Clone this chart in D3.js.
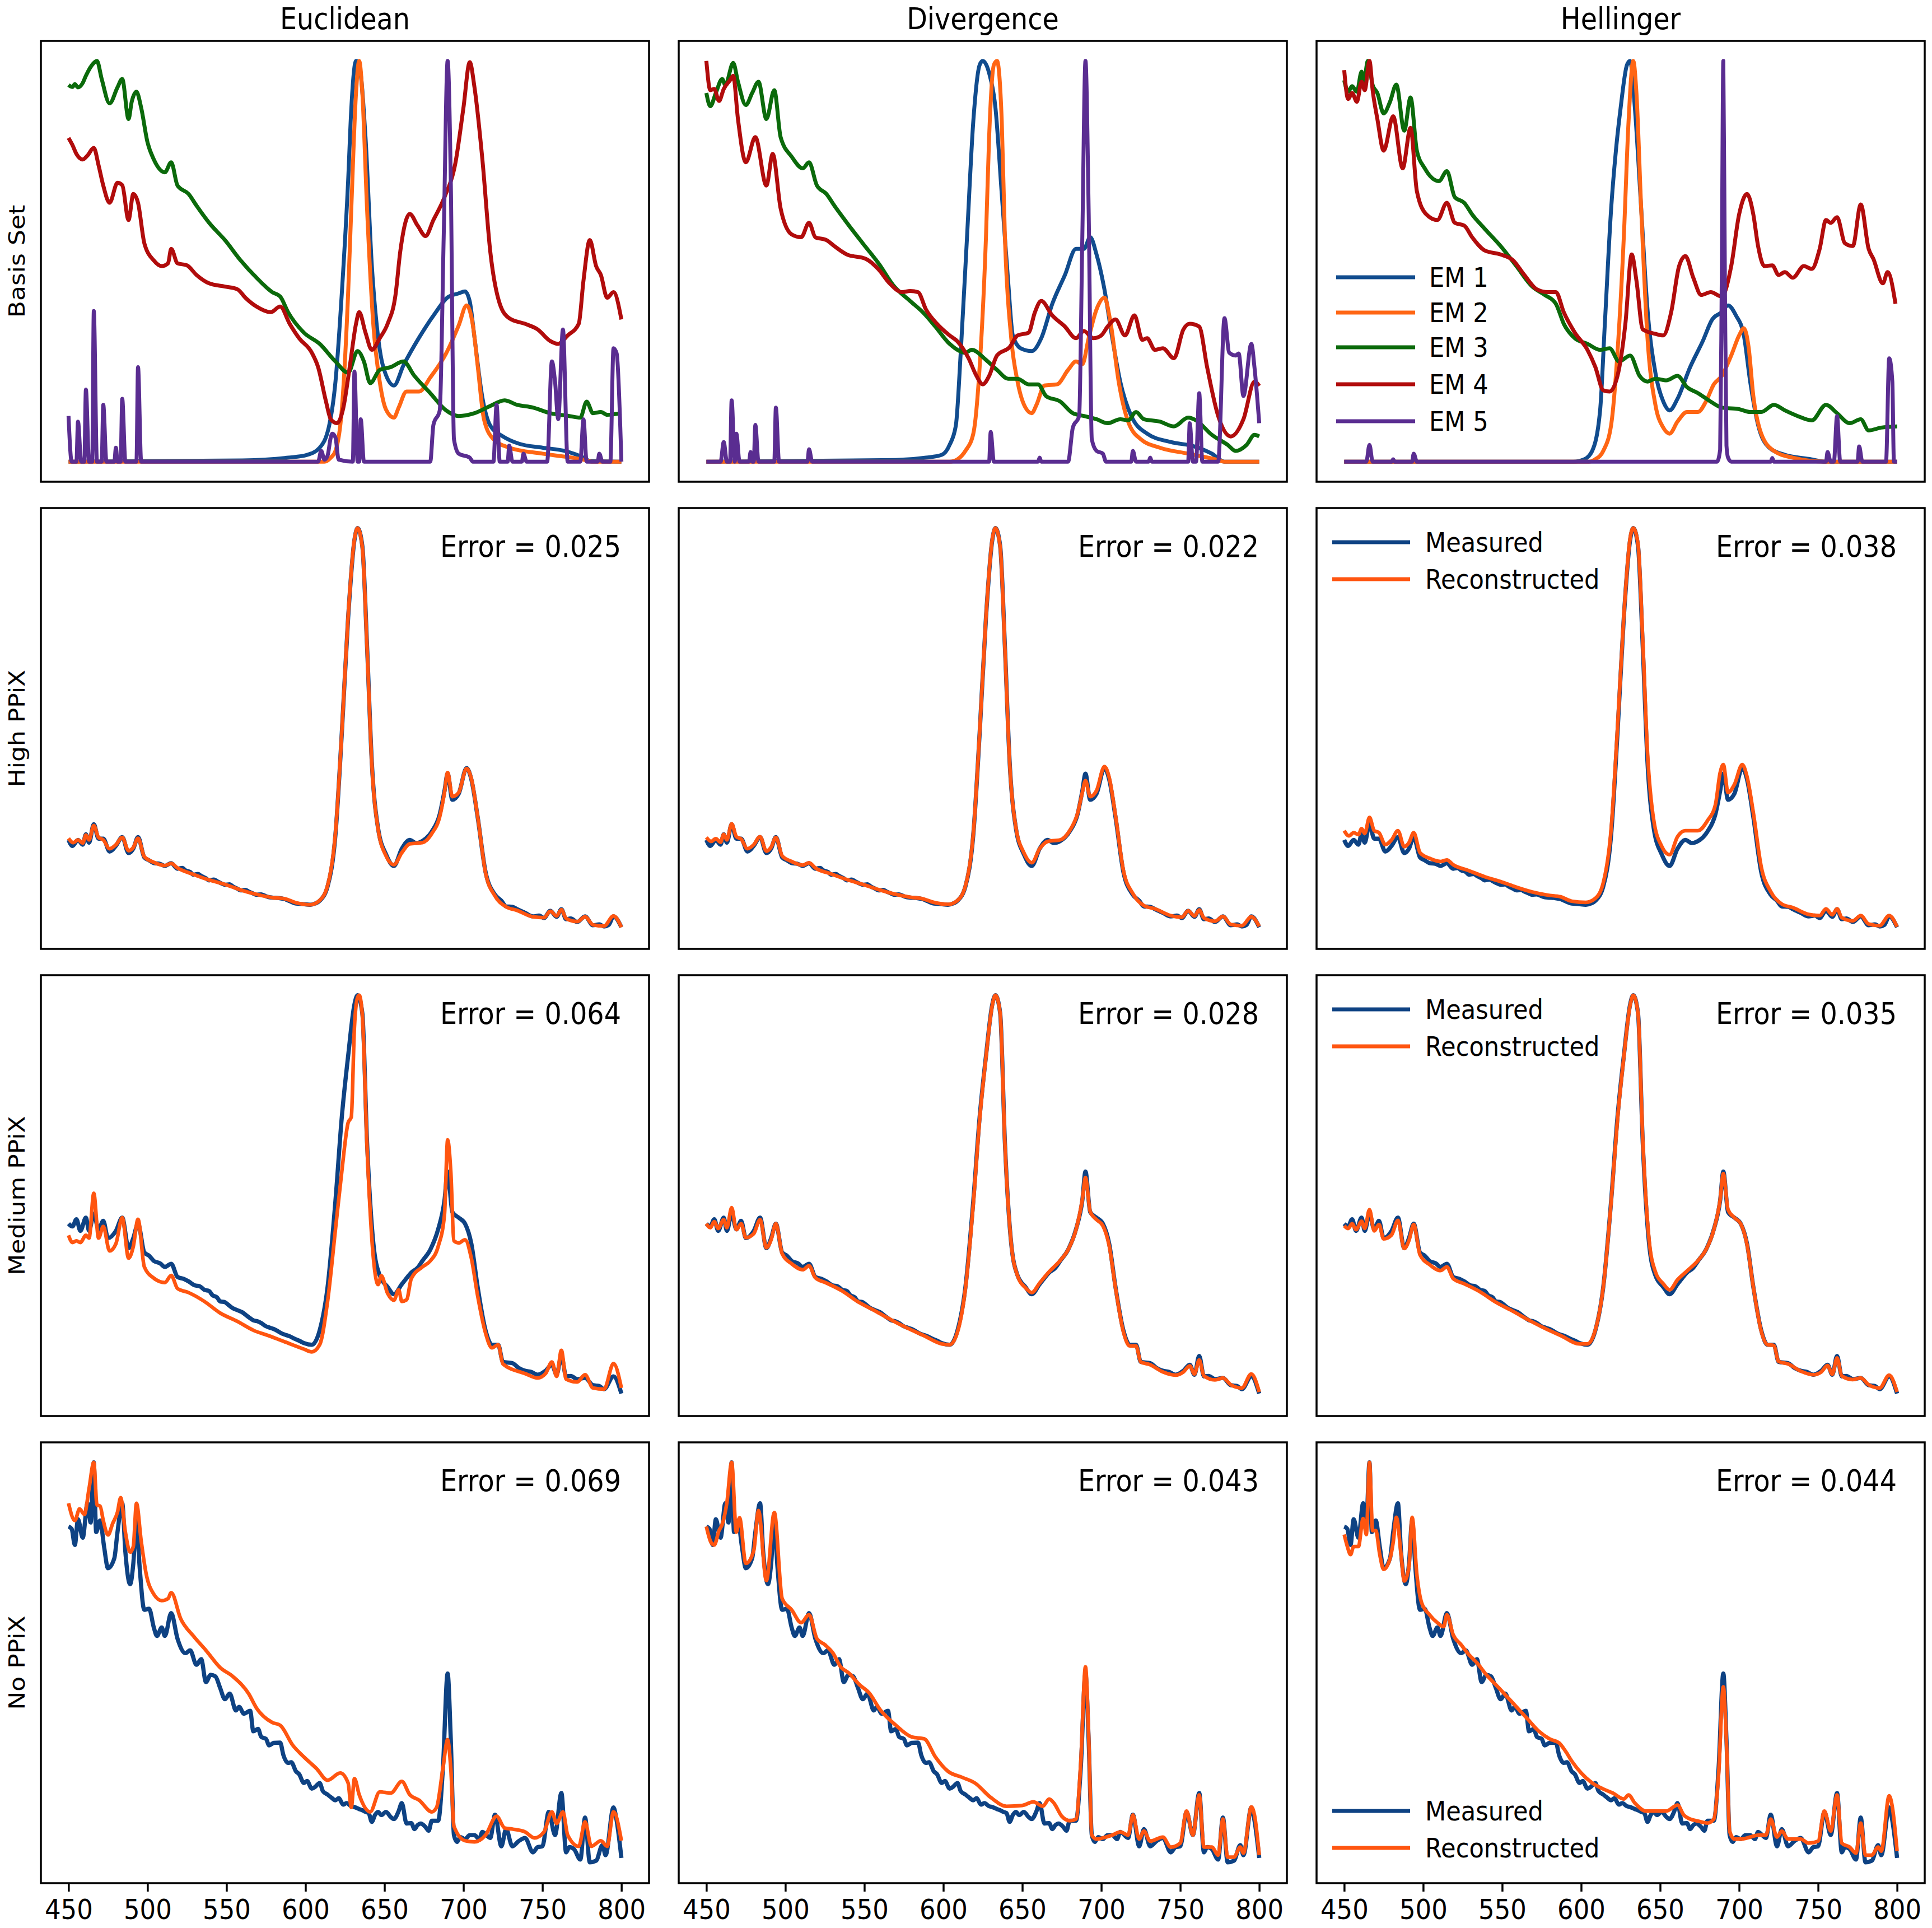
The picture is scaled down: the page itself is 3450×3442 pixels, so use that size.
<!DOCTYPE html>
<html>
<head>
<meta charset="utf-8">
<script src="https://cdn.jsdelivr.net/npm/d3@7"></script>
<style>
  body { margin: 0; background: #fff; }
  text { font-family: "DejaVu Sans", "Liberation Sans", sans-serif; fill: #000; }
</style>
</head>
<body>
<svg id="fig" width="3450" height="3442"></svg>
<script>
// ---- labels ----
const methods = ["Euclidean", "Divergence", "Hellinger"];
const rowLabels = ["Basis Set", "High PPiX", "Medium PPiX", "No PPiX"];
const emLabels = ["EM 1", "EM 2", "EM 3", "EM 4", "EM 5"];
const wavelengthTicks = [450, 500, 550, 600, 650, 700, 750, 800];
const errHigh = [0.025, 0.022, 0.038];
const errMedium = [0.064, 0.028, 0.035];
const errNo = [0.069, 0.043, 0.044];

// ---- basis sets: [wavelength nm, normalised intensity] ----
const eucEm1 = [[450,0],[560,0.003],[589,0.01],[601,0.017],[609,0.035],[615,0.09],[619,0.2],[623,0.42],[627,0.7],[629,0.88],[632,1.0],[634,0.99],[638,0.81],[642,0.49],[646,0.31],[649,0.24],[656,0.19],[662,0.24],[672,0.31],[682,0.37],[690,0.41],[697,0.42],[701,0.425],[704,0.4],[707,0.31],[712,0.16],[717,0.09],[725,0.063],[735,0.045],[750,0.035],[765,0.026],[775,0.012],[780,0.002],[800,0]];
const eucEm2 = [[450,0],[612,0],[616,0.01],[619,0.027],[623,0.13],[627,0.42],[629,0.63],[632,0.92],[634,1.0],[636,0.92],[639,0.63],[643,0.34],[647,0.2],[651,0.13],[656,0.11],[659,0.135],[664,0.175],[672,0.175],[679,0.21],[689,0.27],[697,0.34],[702,0.39],[706,0.34],[709,0.24],[713,0.106],[719,0.056],[729,0.035],[750,0.02],[775,0.006],[782,0],[800,0]];
const eucEm3 = [[450,0.94],[452.5,0.935],[454,0.942],[456,0.934],[459,0.945],[461,0.963],[466,0.995],[468,1.0],[471,0.955],[476,0.894],[481,0.934],[484,0.955],[488,0.855],[490,0.898],[493,0.923],[496,0.883],[500,0.797],[504,0.754],[511,0.722],[515,0.747],[519,0.689],[526,0.668],[531,0.639],[539,0.596],[549,0.553],[559,0.502],[569,0.459],[579,0.423],[584,0.412],[589,0.373],[599,0.322],[609,0.294],[619,0.25],[627,0.222],[633,0.276],[637,0.25],[641,0.196],[647,0.229],[654,0.236],[662,0.25],[669,0.214],[679,0.171],[689,0.128],[697,0.114],[707,0.121],[717,0.139],[726,0.153],[734,0.142],[744,0.135],[755,0.121],[767,0.114],[774,0.11],[778,0.15],[782,0.121],[787,0.124],[791,0.117],[800,0.121]];
const eucEm4 = [[450,0.808],[452.5,0.79],[455,0.768],[459,0.754],[462,0.764],[466,0.783],[469,0.74],[472,0.689],[476,0.646],[481,0.696],[484,0.69],[488,0.603],[491,0.668],[494,0.646],[498,0.545],[504,0.502],[509,0.488],[513,0.495],[515,0.531],[519,0.495],[525,0.49],[531,0.466],[539,0.445],[549,0.437],[557,0.43],[562,0.409],[569,0.387],[578,0.373],[584,0.387],[590,0.344],[596,0.308],[604,0.272],[608,0.236],[613,0.15],[616,0.106],[620,0.096],[624,0.135],[628,0.236],[632,0.344],[634,0.373],[638,0.322],[642,0.279],[647,0.308],[652,0.344],[657,0.416],[660,0.524],[666,0.618],[671,0.589],[676,0.563],[681,0.603],[688,0.66],[695,0.747],[700,0.883],[704,0.997],[707,0.934],[712,0.754],[717,0.524],[723,0.394],[729,0.358],[739,0.344],[747,0.33],[755,0.301],[760,0.294],[766,0.315],[773,0.344],[776,0.452],[780,0.553],[784,0.488],[787,0.466],[791,0.409],[795,0.423],[800,0.355]];
const eucEm5 = [[450,0.114],[452,0],[455,0],[456,0.1],[458,0],[460,0],[461,0.18],[463,0],[465,0],[466,0.376],[468,0],[471,0],[472,0.142],[474,0],[479,0],[480,0.035],[481,0],[483,0],[484,0.157],[486,0],[493,0],[494,0.236],[496,0],[608,0],[610,0.027],[612,0.005],[614,0.015],[616,0.06],[617,0.07],[619,0.06],[621,0.005],[630,0],[631,0.225],[633,0],[634,0],[635,0.106],[637,0],[679,0],[681,0.092],[685,0.128],[687.5,0.56],[690,1.0],[692,0.7],[694,0.056],[697,0.02],[704,0.01],[706,0],[719,0],[721,0.142],[723,0],[728,0],[729,0.04],[731,0],[737,0],[738,0.02],[740,0],[753,0],[756,0.25],[758,0.2],[760,0.106],[763,0.33],[766,0],[774,0],[776,0.106],[778,0],[785,0],[786,0.02],[788,0],[793,0],[795,0.283],[797,0.27],[800,0]];

const divEm1 = [[450,0],[570,0.004],[589,0.01],[599,0.017],[604,0.042],[608,0.092],[611,0.27],[615,0.56],[619,0.85],[623,0.99],[625,1.0],[629,0.97],[633,0.883],[637,0.668],[641,0.452],[644,0.315],[649,0.283],[656,0.276],[662,0.308],[669,0.394],[677,0.466],[684,0.531],[689,0.531],[693,0.56],[697,0.517],[702,0.43],[707,0.308],[712,0.2],[719,0.114],[729,0.07],[744,0.049],[759,0.038],[770,0.02],[778,0],[800,0]];
const divEm2 = [[450,0],[604,0],[609,0.006],[614,0.027],[619,0.07],[623,0.236],[627,0.56],[629,0.81],[632,0.99],[634,1.0],[637,0.85],[639,0.56],[643,0.308],[647,0.2],[652,0.135],[656,0.121],[659,0.142],[664,0.19],[672,0.193],[679,0.229],[684,0.25],[688,0.243],[692,0.308],[697,0.38],[702,0.409],[706,0.344],[711,0.2],[717,0.1],[725,0.056],[737,0.035],[755,0.02],[772,0.006],[778,0],[800,0]];
const divEm3 = [[450,0.92],[452.5,0.887],[456,0.92],[460,0.955],[462,0.94],[467,0.995],[470,0.948],[475,0.89],[479,0.92],[483,0.948],[488,0.855],[493,0.927],[497,0.81],[504,0.761],[511,0.732],[515,0.747],[520,0.689],[526,0.668],[531,0.639],[539,0.596],[549,0.545],[559,0.495],[569,0.437],[579,0.401],[587,0.373],[595,0.337],[604,0.294],[614,0.272],[618,0.279],[627,0.254],[634,0.229],[641,0.207],[647,0.207],[654,0.193],[660,0.193],[665,0.164],[674,0.15],[682,0.121],[689,0.114],[697,0.106],[704,0.096],[712,0.106],[717,0.103],[722,0.124],[727,0.106],[737,0.1],[746,0.088],[755,0.11],[760,0.103],[770,0.067],[780,0.042],[785,0.027],[792,0.042],[797,0.067],[800,0.063]];
const divEm4 = [[450,1.0],[452.5,0.927],[455,0.93],[458,0.9],[461,0.93],[465,0.952],[467,0.963],[470,0.855],[475,0.747],[481,0.81],[488,0.689],[492,0.768],[497,0.632],[504,0.567],[510,0.56],[515,0.596],[519,0.56],[526,0.553],[531,0.538],[539,0.517],[551,0.506],[559,0.48],[566,0.445],[574,0.423],[579,0.426],[584,0.423],[589,0.38],[596,0.344],[604,0.315],[609,0.3],[616,0.258],[621,0.214],[625,0.193],[629,0.214],[634,0.265],[642,0.286],[647,0.315],[654,0.322],[658,0.373],[662,0.401],[669,0.365],[677,0.337],[684,0.308],[689,0.326],[695,0.308],[700,0.315],[704,0.337],[709,0.355],[715,0.315],[721,0.365],[726,0.304],[729,0.308],[734,0.279],[739,0.283],[746,0.258],[752,0.33],[756,0.344],[762,0.337],[767,0.236],[774,0.114],[782,0.063],[790,0.106],[797,0.2],[800,0.189]];
const divEm5 = [[450,0],[459,0],[461,0.049],[463,0],[465,0],[466,0.153],[468,0],[469,0.07],[471,0],[477,0],[478,0.024],[479,0],[480,0],[481,0.092],[483,0],[493,0],[494,0.135],[496,0],[514,0],[515,0.031],[517,0],[629,0],[630,0.074],[632,0],[660,0],[661,0.01],[662,0],[679,0],[682,0.085],[686,0.114],[688,0.56],[690,1.0],[692,0.63],[694,0.056],[697,0.027],[701,0.02],[703,0],[719,0],[720,0.027],[722,0],[730,0],[731,0.01],[732,0],[755,0],[756,0.096],[758,0],[760,0],[762,0.171],[764,0],[774,0],[778,0.358],[781,0.272],[785,0.265],[787,0.27],[790,0.164],[795,0.294],[797,0.235],[800,0.096]];

const helEm1 = [[450,0],[595,0],[602,0.006],[607,0.027],[612,0.128],[615,0.344],[619,0.632],[622,0.776],[625,0.883],[629,0.99],[631,1.0],[634,0.883],[638,0.632],[642,0.38],[647,0.222],[652,0.15],[656,0.128],[661,0.157],[669,0.236],[677,0.301],[683,0.355],[689,0.373],[693,0.39],[698,0.365],[703,0.315],[707,0.2],[712,0.092],[719,0.035],[729,0.017],[744,0.007],[755,0],[800,0]];
const helEm2 = [[450,0],[605,0],[609,0.006],[614,0.027],[619,0.092],[623,0.272],[627,0.56],[630,0.848],[633,1.0],[635,0.92],[638,0.632],[642,0.308],[647,0.142],[652,0.085],[656,0.07],[661,0.1],[667,0.124],[674,0.124],[679,0.15],[684,0.193],[689,0.214],[695,0.265],[700,0.315],[703,0.333],[706,0.286],[709,0.164],[714,0.07],[722,0.027],[734,0.01],[755,0],[800,0]];
const helEm3 = [[450,0.952],[452.5,0.923],[455,0.937],[458,0.923],[461,0.973],[462,0.935],[465,1.0],[468,0.94],[471,0.92],[475,0.869],[479,0.898],[483,0.941],[488,0.826],[492,0.909],[496,0.776],[501,0.732],[510,0.7],[515,0.725],[520,0.66],[526,0.646],[531,0.617],[539,0.581],[549,0.538],[559,0.488],[569,0.437],[577,0.416],[584,0.394],[589,0.344],[596,0.308],[604,0.294],[612,0.279],[618,0.283],[624,0.25],[631,0.265],[637,0.214],[642,0.2],[647,0.207],[654,0.203],[661,0.214],[667,0.186],[674,0.171],[682,0.15],[689,0.135],[700,0.131],[707,0.124],[714,0.124],[722,0.142],[729,0.128],[737,0.114],[746,0.103],[755,0.142],[762,0.121],[770,0.096],[777,0.106],[782,0.078],[790,0.085],[800,0.088]];
const helEm4 = [[450,0.977],[452.5,0.905],[455,0.92],[458,0.898],[461,0.948],[463,0.927],[466,1.0],[468,0.927],[471,0.855],[475,0.776],[481,0.862],[487,0.732],[492,0.833],[496,0.675],[502,0.617],[509,0.603],[515,0.646],[520,0.596],[526,0.589],[531,0.56],[539,0.527],[549,0.517],[557,0.502],[564,0.466],[572,0.43],[579,0.423],[584,0.423],[589,0.373],[596,0.322],[604,0.279],[609,0.236],[614,0.178],[618,0.175],[623,0.214],[628,0.344],[632,0.517],[635,0.452],[639,0.33],[647,0.319],[652,0.315],[657,0.373],[662,0.488],[666,0.513],[671,0.459],[676,0.416],[682,0.423],[689,0.412],[695,0.488],[700,0.617],[705,0.668],[709,0.617],[712,0.538],[716,0.488],[721,0.49],[725,0.466],[729,0.473],[734,0.459],[741,0.488],[746,0.481],[751,0.531],[755,0.603],[758,0.596],[762,0.61],[767,0.545],[772,0.538],[777,0.642],[782,0.531],[785,0.506],[791,0.445],[794,0.473],[799,0.394]];
const helEm5 = [[450,0],[464,0],[466,0.042],[468,0],[480,0],[481,0.006],[482,0],[493,0],[494,0.02],[496,0],[686,0],[688,0.03],[689,0.45],[690,1.0],[691,0.45],[692,0.04],[693,0.01],[695,0],[720,0],[721,0.009],[722,0],[755,0],[756,0.024],[758,0],[760,0],[762,0.114],[764,0],[775,0],[776,0.038],[778,0],[793,0],[795,0.258],[797,0.2],[798,0],[800,0]];

// ---- measured spectra ----
const measHigh = [[450,0.222],[452.5,0.207],[456,0.222],[459,0.21],[461,0.236],[463,0.215],[466,0.261],[469,0.225],[472,0.225],[476,0.193],[480,0.207],[484,0.229],[488,0.189],[491,0.2],[494,0.229],[498,0.178],[501,0.171],[504,0.164],[508,0.162],[511,0.157],[515,0.164],[519,0.15],[522,0.152],[524,0.146],[527,0.142],[529,0.135],[532,0.137],[534,0.132],[537,0.126],[539,0.121],[542,0.123],[544,0.119],[547,0.113],[549,0.11],[552,0.111],[554,0.106],[557,0.1],[559,0.096],[562,0.097],[564,0.093],[567,0.088],[569,0.085],[572,0.086],[574,0.083],[577,0.079],[579,0.078],[583,0.077],[587,0.074],[590,0.069],[594,0.063],[598,0.062],[603,0.06],[606,0.063],[609,0.07],[614,0.106],[619,0.236],[623,0.488],[627,0.776],[631,0.97],[633,1.0],[636,0.955],[639,0.704],[642,0.416],[646,0.25],[651,0.186],[656,0.157],[661,0.2],[666,0.222],[670,0.214],[674,0.219],[680,0.243],[685,0.286],[688,0.344],[690,0.387],[693,0.322],[697,0.337],[702,0.401],[705,0.373],[709,0.279],[714,0.142],[720,0.085],[724,0.07],[727,0.056],[731,0.055],[734,0.049],[739,0.04],[744,0.031],[748,0.033],[751,0.027],[755,0.045],[759,0.03],[762,0.049],[765,0.024],[768,0.026],[772,0.017],[777,0.031],[782,0.009],[786,0.011],[789,0.006],[792,0.01],[795,0.031],[800,0.004]];
const measMedium = [[450,0.43],[452.5,0.423],[455,0.441],[457.5,0.412],[461,0.445],[463,0.412],[466,0.455],[469,0.416],[472,0.437],[475,0.394],[480,0.412],[484,0.445],[488,0.369],[491,0.394],[494,0.43],[498,0.358],[501,0.35],[504,0.337],[508,0.331],[511,0.322],[515,0.33],[519,0.297],[523,0.292],[526,0.286],[530,0.276],[533,0.274],[536,0.265],[539,0.262],[541,0.252],[544,0.246],[546,0.236],[549,0.234],[551,0.228],[554,0.219],[557,0.214],[560,0.209],[562,0.203],[565,0.194],[567,0.189],[570,0.186],[572,0.182],[575,0.174],[577,0.171],[580,0.167],[582,0.163],[585,0.156],[587,0.153],[590,0.149],[593,0.143],[596,0.138],[599,0.132],[604,0.128],[609,0.164],[614,0.272],[619,0.488],[623,0.696],[627,0.848],[631,0.977],[633,1.0],[636,0.955],[639,0.632],[643,0.38],[647,0.301],[652,0.272],[656,0.254],[661,0.279],[664,0.294],[667,0.308],[671,0.32],[674,0.337],[679,0.365],[684,0.416],[688,0.488],[690,0.56],[693,0.459],[697,0.445],[701,0.43],[705,0.38],[709,0.272],[714,0.164],[718,0.128],[722,0.128],[725,0.085],[731,0.082],[735,0.07],[739,0.063],[743,0.06],[747,0.053],[752,0.063],[756,0.078],[759,0.053],[762,0.1],[765,0.049],[768,0.05],[772,0.042],[777,0.045],[782,0.027],[786,0.025],[789,0.017],[795,0.049],[800,0.006]];
const measNo = [[450,0.84],[452,0.834],[454,0.794],[456,0.858],[459,0.812],[462,0.898],[464,0.85],[466,1.0],[467.5,0.826],[470,0.855],[472.5,0.79],[475,0.736],[479,0.761],[481,0.826],[484,0.898],[486,0.776],[489,0.696],[491,0.747],[493,0.855],[495,0.74],[498,0.632],[501,0.635],[504,0.588],[506,0.567],[509,0.588],[511,0.567],[515,0.624],[519,0.56],[524,0.524],[527,0.531],[531,0.495],[534,0.509],[537,0.452],[540,0.47],[543,0.466],[546,0.437],[549,0.409],[552,0.423],[556,0.381],[558,0.39],[561,0.373],[565,0.38],[567,0.329],[570,0.335],[572,0.315],[575,0.31],[577,0.294],[580,0.3],[584,0.301],[586,0.27],[589,0.25],[591,0.252],[594,0.229],[596,0.222],[599,0.2],[601,0.205],[604,0.186],[606,0.19],[609,0.2],[611,0.18],[614,0.171],[616,0.165],[619,0.157],[621,0.162],[624,0.146],[626,0.15],[629,0.142],[631,0.14],[634,0.135],[636,0.132],[638,0.128],[640,0.125],[642,0.103],[644,0.12],[646,0.128],[648,0.12],[651,0.128],[654,0.115],[656,0.11],[659,0.13],[661,0.15],[664,0.099],[667,0.1],[669,0.085],[671,0.095],[673,0.099],[676,0.09],[678,0.081],[680,0.106],[684,0.106],[687,0.236],[690,0.473],[692,0.308],[694,0.07],[696,0.053],[698,0.065],[701,0.06],[704,0.07],[707,0.07],[710,0.06],[712,0.078],[717,0.063],[720,0.121],[724,0.042],[727,0.085],[731,0.042],[735,0.055],[739,0.063],[744,0.027],[747,0.04],[750,0.042],[754,0.128],[758,0.07],[762,0.175],[765,0.027],[767,0.04],[770,0.035],[774,0.009],[777,0.114],[780,0.002],[784,0.006],[788,0.045],[790,0.02],[795,0.139],[797,0.106],[800,0.013]];

// ---- reconstructions ----
const reconHighEuc = [[450,0.226],[453,0.215],[456,0.222],[459,0.214],[461,0.234],[463,0.222],[466,0.258],[469,0.228],[472,0.222],[476,0.2],[480,0.21],[484,0.228],[488,0.195],[491,0.203],[494,0.226],[498,0.18],[504,0.166],[511,0.158],[515,0.163],[519,0.152],[529,0.136],[539,0.122],[549,0.111],[559,0.097],[569,0.086],[579,0.078],[587,0.075],[594,0.065],[603,0.06],[609,0.071],[614,0.108],[619,0.24],[623,0.49],[627,0.78],[631,0.972],[633,1.0],[636,0.952],[639,0.7],[642,0.412],[646,0.248],[651,0.182],[656,0.16],[661,0.19],[666,0.212],[674,0.215],[680,0.238],[685,0.28],[688,0.34],[690,0.39],[693,0.33],[697,0.34],[702,0.4],[705,0.375],[709,0.28],[714,0.14],[720,0.082],[727,0.055],[734,0.046],[744,0.03],[751,0.028],[755,0.044],[759,0.032],[762,0.048],[765,0.026],[772,0.018],[777,0.03],[782,0.01],[789,0.007],[795,0.032],[800,0.004]];
const reconHighDiv = [[450,0.228],[453,0.218],[456,0.225],[459,0.216],[461,0.236],[463,0.222],[466,0.262],[469,0.23],[472,0.224],[476,0.2],[480,0.21],[484,0.23],[488,0.194],[491,0.204],[494,0.228],[498,0.182],[504,0.168],[511,0.159],[515,0.165],[519,0.152],[529,0.137],[539,0.123],[549,0.111],[559,0.098],[569,0.087],[579,0.079],[587,0.075],[594,0.066],[603,0.061],[609,0.071],[614,0.107],[619,0.238],[623,0.49],[627,0.778],[631,0.972],[633,1.0],[636,0.953],[639,0.7],[642,0.414],[646,0.252],[651,0.19],[656,0.165],[661,0.2],[666,0.218],[674,0.222],[680,0.245],[685,0.288],[688,0.34],[690,0.37],[693,0.33],[697,0.345],[702,0.405],[705,0.378],[709,0.283],[714,0.146],[720,0.088],[727,0.058],[734,0.05],[744,0.033],[751,0.029],[755,0.045],[759,0.032],[762,0.047],[765,0.027],[772,0.019],[777,0.031],[782,0.011],[789,0.008],[795,0.03],[800,0.006]];
const reconHighHel = [[450,0.245],[453,0.232],[456,0.24],[459,0.235],[461,0.25],[463,0.238],[466,0.278],[469,0.245],[472,0.24],[476,0.21],[480,0.222],[484,0.245],[488,0.205],[491,0.215],[494,0.24],[498,0.19],[504,0.176],[511,0.168],[515,0.172],[519,0.16],[529,0.145],[539,0.13],[549,0.118],[559,0.104],[569,0.092],[579,0.084],[587,0.08],[594,0.069],[603,0.066],[609,0.076],[614,0.115],[619,0.25],[623,0.5],[627,0.78],[631,0.975],[633,1.0],[636,0.96],[639,0.72],[642,0.44],[646,0.27],[651,0.206],[656,0.185],[661,0.23],[666,0.245],[674,0.245],[680,0.27],[685,0.31],[688,0.39],[690,0.41],[693,0.34],[697,0.36],[702,0.41],[705,0.38],[709,0.29],[714,0.155],[720,0.093],[727,0.062],[734,0.053],[744,0.036],[751,0.033],[755,0.05],[759,0.035],[762,0.05],[765,0.028],[772,0.02],[777,0.033],[782,0.012],[789,0.008],[795,0.033],[800,0.005]];

const reconMedEuc = [[450,0.401],[452.5,0.383],[455,0.387],[457.5,0.383],[461,0.401],[463,0.394],[466,0.506],[469,0.394],[472,0.423],[476,0.362],[480,0.38],[484,0.445],[488,0.344],[491,0.373],[494,0.441],[498,0.322],[504,0.294],[511,0.283],[515,0.301],[519,0.268],[526,0.258],[536,0.236],[546,0.207],[557,0.186],[567,0.164],[577,0.15],[587,0.135],[599,0.117],[604,0.11],[609,0.128],[614,0.236],[619,0.416],[623,0.56],[627,0.682],[629,0.696],[631,0.92],[633,0.995],[634,1.0],[636,0.95],[639,0.62],[643,0.344],[646,0.278],[648,0.3],[652,0.256],[656,0.239],[659,0.265],[661,0.236],[664,0.24],[667,0.293],[674,0.322],[679,0.337],[684,0.373],[688,0.452],[690,0.639],[692,0.56],[694,0.387],[697,0.382],[701,0.39],[705,0.344],[709,0.25],[714,0.157],[718,0.12],[722,0.128],[725,0.08],[739,0.056],[747,0.045],[752,0.056],[756,0.085],[759,0.049],[762,0.114],[765,0.042],[772,0.035],[777,0.053],[782,0.02],[789,0.017],[795,0.081],[800,0.02]];
const reconMedDiv = [[450,0.43],[452.5,0.42],[455,0.435],[457.5,0.418],[461,0.44],[463,0.42],[466,0.47],[469,0.415],[472,0.43],[475,0.395],[480,0.405],[484,0.44],[488,0.37],[491,0.39],[494,0.43],[498,0.355],[504,0.33],[511,0.315],[515,0.325],[519,0.295],[526,0.282],[536,0.262],[546,0.235],[557,0.212],[567,0.19],[577,0.17],[587,0.152],[599,0.13],[604,0.128],[609,0.16],[614,0.268],[619,0.48],[623,0.69],[627,0.845],[631,0.975],[633,1.0],[636,0.955],[639,0.63],[643,0.38],[647,0.3],[652,0.27],[656,0.258],[661,0.282],[667,0.31],[674,0.338],[679,0.365],[684,0.415],[688,0.49],[690,0.545],[693,0.46],[697,0.44],[701,0.425],[705,0.375],[709,0.27],[714,0.16],[718,0.125],[722,0.125],[725,0.085],[731,0.078],[739,0.06],[747,0.052],[752,0.06],[756,0.075],[759,0.055],[762,0.09],[765,0.05],[772,0.04],[777,0.045],[782,0.028],[789,0.02],[795,0.055],[800,0.01]];
const reconMedHel = [[450,0.425],[452.5,0.418],[455,0.43],[457.5,0.415],[461,0.436],[463,0.418],[466,0.465],[469,0.412],[472,0.428],[475,0.392],[480,0.402],[484,0.438],[488,0.368],[491,0.388],[494,0.428],[498,0.352],[504,0.328],[511,0.313],[515,0.322],[519,0.293],[526,0.28],[536,0.26],[546,0.234],[557,0.211],[567,0.189],[577,0.169],[587,0.151],[599,0.13],[604,0.13],[609,0.165],[614,0.272],[619,0.485],[623,0.69],[627,0.845],[631,0.975],[633,1.0],[636,0.955],[639,0.64],[643,0.39],[647,0.31],[652,0.28],[656,0.265],[661,0.29],[667,0.312],[674,0.338],[679,0.365],[684,0.415],[688,0.49],[690,0.555],[693,0.465],[697,0.445],[701,0.43],[705,0.378],[709,0.272],[714,0.162],[718,0.128],[722,0.126],[725,0.086],[731,0.08],[739,0.062],[747,0.053],[752,0.06],[756,0.076],[759,0.054],[762,0.095],[765,0.05],[772,0.041],[777,0.045],[782,0.028],[789,0.02],[795,0.052],[800,0.01]];

const reconNoEuc = [[450,0.898],[454,0.855],[457,0.884],[460,0.87],[463,0.935],[466,1.0],[468,0.894],[470,0.891],[472,0.855],[475,0.819],[478,0.848],[481,0.876],[483,0.912],[486,0.826],[489,0.776],[491,0.79],[493,0.898],[496,0.804],[499,0.725],[504,0.671],[509,0.655],[513,0.66],[515,0.675],[521,0.61],[529,0.567],[537,0.531],[546,0.488],[554,0.466],[564,0.423],[569,0.387],[579,0.351],[584,0.344],[592,0.294],[599,0.265],[607,0.236],[614,0.207],[622,0.225],[627,0.2],[629,0.139],[631,0.211],[634,0.171],[641,0.128],[647,0.178],[654,0.175],[661,0.204],[666,0.171],[672,0.157],[680,0.128],[683,0.139],[687,0.236],[690,0.308],[692,0.236],[694,0.092],[701,0.056],[707,0.053],[714,0.07],[721,0.117],[726,0.088],[731,0.085],[739,0.078],[745,0.063],[751,0.078],[756,0.128],[759,0.099],[763,0.128],[766,0.07],[773,0.042],[777,0.103],[781,0.042],[787,0.056],[791,0.042],[795,0.128],[800,0.056]];
const reconNoDiv = [[450,0.84],[453,0.8],[455,0.794],[458,0.83],[460,0.845],[463,0.9],[466,1.0],[469,0.826],[471,0.862],[475,0.748],[480,0.78],[483,0.88],[488,0.705],[493,0.875],[498,0.66],[504,0.632],[510,0.6],[515,0.62],[520,0.56],[525,0.545],[530,0.525],[535,0.49],[540,0.475],[547,0.445],[553,0.425],[560,0.383],[570,0.344],[580,0.315],[588,0.31],[595,0.265],[603,0.229],[612,0.214],[620,0.2],[630,0.164],[640,0.142],[650,0.144],[657,0.153],[663,0.142],[667,0.16],[670,0.15],[675,0.117],[680,0.106],[684,0.11],[687,0.25],[690,0.49],[692,0.32],[694,0.07],[697,0.06],[701,0.063],[707,0.07],[712,0.078],[717,0.07],[720,0.12],[724,0.06],[727,0.08],[731,0.055],[739,0.065],[744,0.04],[750,0.05],[754,0.13],[758,0.07],[762,0.17],[765,0.04],[770,0.04],[774,0.02],[777,0.11],[780,0.015],[784,0.015],[788,0.04],[790,0.025],[795,0.14],[797,0.12],[800,0.02]];
const reconNoHel = [[450,0.82],[452,0.79],[454,0.77],[456,0.79],[459,0.79],[462,0.86],[464,0.82],[466,1.0],[468,0.83],[470,0.83],[472.5,0.77],[475,0.733],[479,0.76],[481,0.8],[483,0.863],[486,0.77],[488,0.704],[491,0.74],[493,0.863],[496,0.72],[499,0.65],[504,0.62],[509,0.6],[513,0.59],[515,0.62],[519,0.57],[524,0.545],[529,0.52],[534,0.5],[540,0.47],[546,0.445],[552,0.42],[559,0.39],[566,0.36],[573,0.33],[580,0.31],[586,0.3],[590,0.28],[594,0.255],[600,0.225],[607,0.2],[614,0.185],[620,0.175],[627,0.16],[630,0.17],[634,0.15],[641,0.13],[647,0.13],[654,0.13],[661,0.145],[665,0.12],[669,0.11],[674,0.105],[680,0.1],[684,0.11],[687,0.22],[690,0.44],[692,0.3],[694,0.08],[697,0.06],[701,0.06],[707,0.065],[712,0.07],[717,0.07],[720,0.11],[724,0.065],[727,0.08],[731,0.06],[739,0.06],[744,0.05],[750,0.055],[754,0.13],[758,0.08],[762,0.17],[765,0.05],[770,0.04],[774,0.025],[777,0.1],[780,0.02],[784,0.02],[788,0.04],[790,0.03],[795,0.168],[797,0.14],[800,0.03]];

// ---- layout ----
const emColors = ["#114c8e", "#ff6614", "#0b6a0b", "#b10c0c", "#5a2d91"];
const measColor = "#0e4283", reconColor = "#ff5510";
const left0 = 73, colStep = 1139, W = 1086;
const top0 = 73, rowStep = 834, H = 787;
const squeeze = 0.9; // glyphs in the original are horizontally condensed

const basisSets = [
  [eucEm1, eucEm2, eucEm3, eucEm4, eucEm5],
  [divEm1, divEm2, divEm3, divEm4, divEm5],
  [helEm1, helEm2, helEm3, helEm4, helEm5]
];
const measuredRows = [measHigh, measMedium, measNo];
const reconRows = [
  [reconHighEuc, reconHighDiv, reconHighHel],
  [reconMedEuc, reconMedDiv, reconMedHel],
  [reconNoEuc, reconNoDiv, reconNoHel]
];
const errorRows = [errHigh, errMedium, errNo];

const svg = d3.select("#fig");
svg.append("rect").attr("width", 3450).attr("height", 3442).attr("fill", "#fff");

const x = d3.scaleLinear().domain([432.5, 817.5]).range([0, W]);
const y = d3.scaleLinear().domain([-0.05, 1.05]).range([H, 0]);
const line = d3.line().x(d => x(d[0])).y(d => y(d[1])).curve(d3.curveMonotoneX);

function label(g, px, py, str, size, anchor, rot) {
  return g.append("text")
    .attr("transform", `translate(${px},${py}) scale(${squeeze},1)` + (rot ? ` rotate(${rot})` : ""))
    .attr("text-anchor", anchor)
    .style("font-size", size + "px")
    .text(str);
}

function legend(g, items, lx0, lx1, tx, ys) {
  items.forEach((it, i) => {
    g.append("line").attr("x1", lx0).attr("x2", lx1).attr("y1", ys[i]).attr("y2", ys[i])
      .attr("stroke", it.color).attr("stroke-width", 7);
    label(g, tx, ys[i] + 17, it.name, 48, "start");
  });
}

for (let r = 0; r < 4; r++) {
  for (let c = 0; c < 3; c++) {
    const g = svg.append("g").attr("transform", `translate(${left0 + c * colStep},${top0 + r * rowStep})`);

    if (r === 0) {
      basisSets[c].forEach((s, i) => {
        g.append("path").datum(s).attr("d", line)
          .attr("fill", "none").attr("stroke", emColors[i])
          .attr("stroke-width", 7).attr("stroke-linejoin", "round");
      });
      if (c === 2) {
        legend(g, emLabels.map((n, i) => ({ name: n, color: emColors[i] })),
          35, 176, 201, [422, 485, 547, 613, 679]);
      }
    } else {
      g.append("path").datum(measuredRows[r - 1]).attr("d", line)
        .attr("fill", "none").attr("stroke", measColor)
        .attr("stroke-width", 7.5).attr("stroke-linejoin", "round");
      g.append("path").datum(reconRows[r - 1][c]).attr("d", line)
        .attr("fill", "none").attr("stroke", reconColor)
        .attr("stroke-width", 6.5).attr("stroke-linejoin", "round");
      label(g, W - 50, 87, "Error = " + errorRows[r - 1][c].toFixed(3), 53, "end");
      if (c === 2) {
        const items = [{ name: "Measured", color: measColor }, { name: "Reconstructed", color: reconColor }];
        const ys = r === 3 ? [658, 724] : [61, 127];
        legend(g, items, 28, 167, 194, ys);
      }
    }

    g.append("rect").attr("width", W).attr("height", H)
      .attr("fill", "none").attr("stroke", "#000").attr("stroke-width", 3.5);

    if (r === 3) {
      const ax = g.append("g").attr("transform", `translate(0,${H})`)
        .call(d3.axisBottom(x).tickValues(wavelengthTicks).tickSize(15).tickPadding(14).tickFormat(d3.format("d")));
      ax.select(".domain").remove();
      ax.selectAll(".tick line").attr("stroke", "#000").attr("stroke-width", 3.5);
      ax.selectAll(".tick text")
        .style("font-size", "50px")
        .attr("font-family", null)
        .attr("transform", `scale(${squeeze},1)`);
    }
    if (r === 0) label(svg, left0 + c * colStep + W / 2, 52, methods[c], 53, "middle");
  }
  label(svg, 44, top0 + r * rowStep + H / 2, rowLabels[r], 44, "middle", -90);
}
</script>
</body>
</html>
